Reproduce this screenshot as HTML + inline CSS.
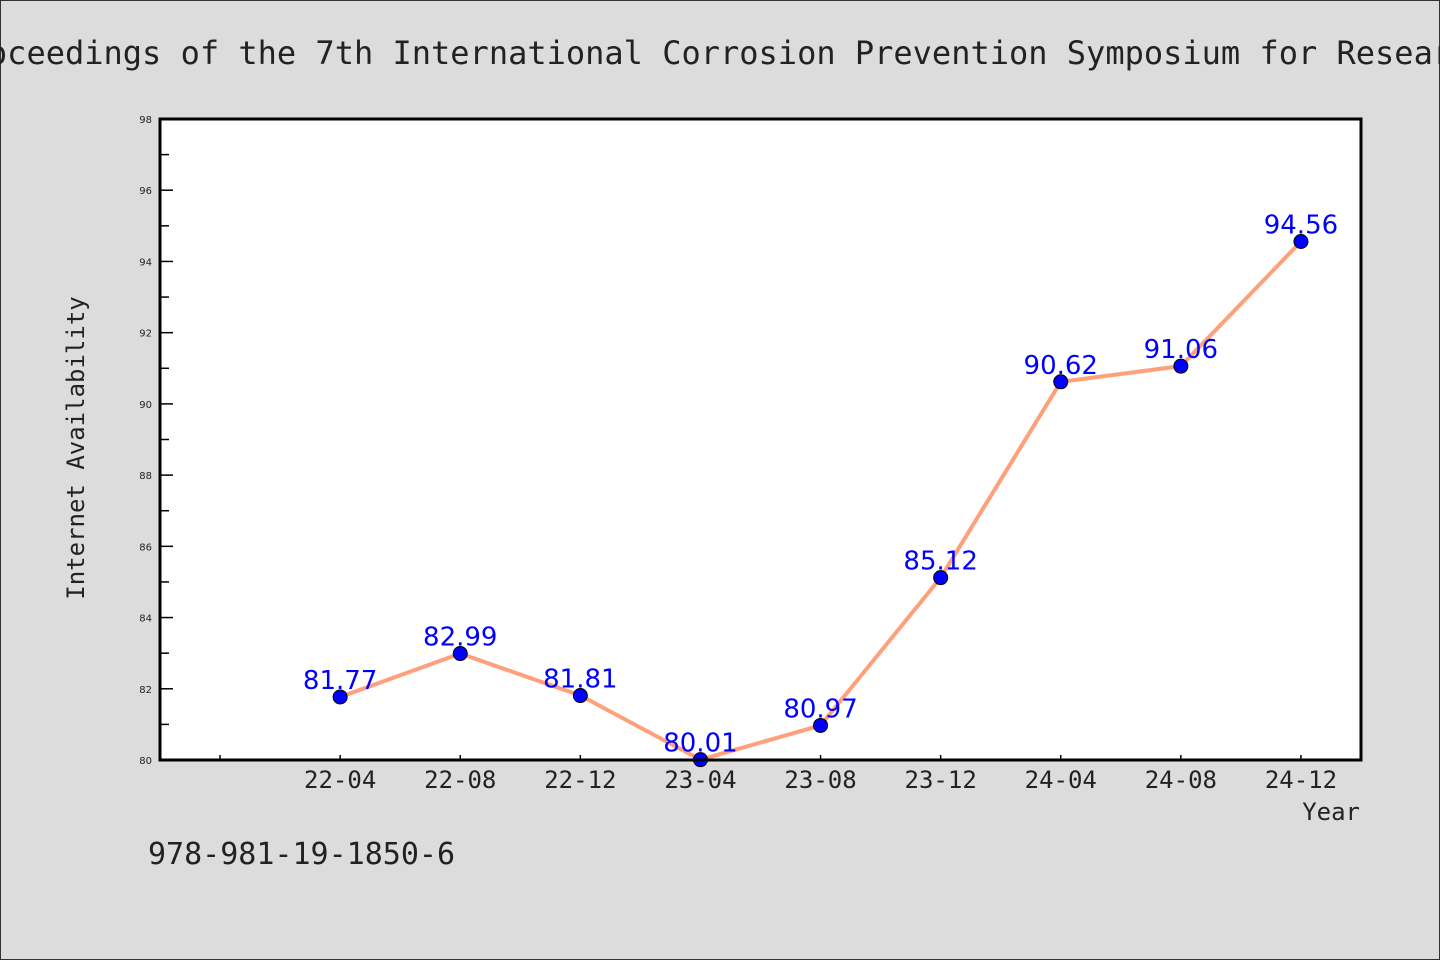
<!DOCTYPE html>
<html><head><meta charset="utf-8"><style>
html,body{margin:0;padding:0;background:#dcdcdc;}
svg{display:block;}
</style></head><body>
<svg width="1440" height="960" xmlns="http://www.w3.org/2000/svg">
<rect x="0.5" y="0.5" width="1439" height="959" fill="#dcdcdc" stroke="#333" stroke-width="1"/>
<text x="720" y="64" text-anchor="middle" font-family="'DejaVu Sans Mono','Liberation Mono',monospace" font-size="32" fill="#222">Proceedings of the 7th International Corrosion Prevention Symposium for Research</text>
<rect x="160" y="119" width="1201" height="641" fill="#fff"/>
<g id="axes"></g>
<g id="series"></g>
<rect x="160" y="119" width="1201" height="641" fill="none" stroke="#000" stroke-width="3"/>
<text transform="translate(84,448) rotate(-90)" text-anchor="middle" font-family="'DejaVu Sans Mono','Liberation Mono',monospace" font-size="24" fill="#222">Internet Availability</text>
<text x="1360" y="820" text-anchor="end" font-family="'DejaVu Sans Mono','Liberation Mono',monospace" font-size="24" fill="#222">Year</text>
<text x="148" y="864" font-family="'DejaVu Sans Mono','Liberation Mono',monospace" font-size="30" fill="#222">978-981-19-1850-6</text>
</svg>
<script>
const categories = ["22-04","22-08","22-12","23-04","23-08","23-12","24-04","24-08","24-12"];
const values = [81.77,82.99,81.81,80.01,80.97,85.12,90.62,91.06,94.56];
const valueLabels = ["81.77","82.99","81.81","80.01","80.97","85.12","90.62","91.06","94.56"];
const yTicks = [80,82,84,86,88,90,92,94,96,98];
const yMinorTicks = [81,83,85,87,89,91,93,95,97];

const NS = "http://www.w3.org/2000/svg";
const L=160, R=1361, T=119, B=760;
const xMin=-1.5, xMax=8.5, yMin=80, yMax=98;
function xs(i){return L+(i-xMin)/(xMax-xMin)*(R-L);}
function ys(v){return B-(v-yMin)/(yMax-yMin)*(B-T);}
function mk(tag,attrs,parent){const e=document.createElementNS(NS,tag);for(const k in attrs)e.setAttribute(k,attrs[k]);parent.appendChild(e);return e;}
const axes=document.getElementById('axes');
const series=document.getElementById('series');

yTicks.forEach(v=>{
  const y=ys(v);
  const t=mk('line',{x1:L,x2:L+13,y1:y,y2:y,stroke:'#000','stroke-width':1.5},axes);
  
  
  const lb=mk('text',{x:L-8,y:y+4,'text-anchor':'end','font-family':"'DejaVu Sans','Liberation Sans',sans-serif",'font-size':10,fill:'#222'},axes);
  lb.textContent=v;
  
  
});
yMinorTicks.forEach(v=>{
  const y=ys(v);
  const t=mk('line',{x1:L,x2:L+9,y1:y,y2:y,stroke:'#000','stroke-width':1.5},axes);
  
  
});
for(let i=-1;i<categories.length;i++){
  const x=xs(i);
  const t=mk('line',{x1:x,x2:x,y1:B,y2:B-5,stroke:'#000','stroke-width':1.5},axes);
  
  
  if(i>=0){
    const lb=mk('text',{x:x,y:B+28,'text-anchor':'middle','font-family':"'DejaVu Sans Mono','Liberation Mono',monospace",'font-size':24,fill:'#222'},axes);
    lb.textContent=categories[i];
    
    
  }
}
const pts=values.map((v,i)=>xs(i)+','+ys(v)).join(' ');
const line=mk('polyline',{points:pts,fill:'none',stroke:'#ffa07a','stroke-width':4,'stroke-linejoin':'round'},series);


values.forEach((v,i)=>{
  const lb=mk('text',{x:xs(i),y:ys(v)-8,'text-anchor':'middle','font-family':"'DejaVu Sans','Liberation Sans',sans-serif",'font-size':26,fill:'#0000ff'},series);
  lb.textContent=valueLabels[i];
  
  
});
values.forEach((v,i)=>{
  const c=mk('circle',{cx:xs(i),cy:ys(v),r:7,fill:'#0000ff',stroke:'#000','stroke-width':1},series);
  
  
});
</script>
</body></html>
